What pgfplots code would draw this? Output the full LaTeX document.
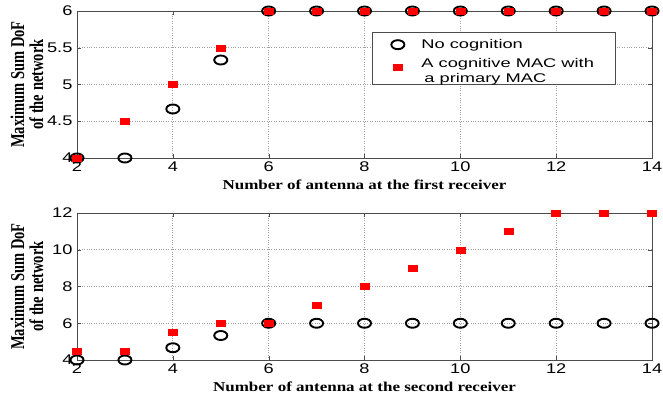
\documentclass[border=0pt]{standalone}
\usepackage{graphicx}
\usepackage{pgfplots}
\pgfplotsset{compat=1.18}
\usepackage{fontspec}
\setmainfont{Liberation Sans}
\newfontfamily\timesfont{Liberation Serif}
\begin{document}
\begin{tikzpicture}[x=1pt,y=1pt]
\useasboundingbox (0,0) rectangle (663,402);
\pgfplotsset{
  myax/.style={
    scale only axis, width=575pt, height=147pt,
    xmin=2, xmax=14, xtick={2,4,...,14},
    grid=major, major grid style={dotted, gray!75, line width=0.9pt},
    axis line style={gray!60!black, line width=0.9pt},
    tick style={gray!60!black},
    tick align=inside, major tick length=4pt,
    ticklabel style={font=\fontsize{14}{14}\selectfont, xscale=1.3},
    /pgf/number format/assume math mode=true,
    xlabel style={font=\timesfont\bfseries\fontsize{13.6}{14}\selectfont, xscale=1.25,
      at={(axis description cs:0.5,0)}, anchor=center, yshift=-27pt},
    ylabel style={font=\timesfont\bfseries\fontsize{14.5}{14}\selectfont, align=center,
      at={(axis description cs:-0.087,0.5)}, anchor=center, yscale=1.35},
    ylabel={Maximum Sum DoF\\of the network},
  },
  circ/.style={only marks, mark=o, mark size=4.5pt, mark options={xscale=1.45, line width=1.9pt, black}},
  sq/.style={only marks, mark=square*, mark size=3pt, mark options={xscale=1.5, fill=red, draw=red}},
}
\begin{axis}[myax, at={(77pt,244pt)}, anchor=south west,
  ymin=4, ymax=6, ytick={4,4.5,5,5.5,6},
  xlabel={Number of antenna at the first receiver},
  legend style={at={(0.513,0.857)}, anchor=north west, draw=gray!60!black, line width=0.7pt,
    font=\fontsize{12.6}{13.5}\selectfont, cells={anchor=west}, row sep=4pt, inner xsep=19pt, inner ysep=5pt},
  legend cell align=left,
  clip=false]
\addplot[circ] coordinates {(2,4)(3,4)(4,4.6667)(5,5.3333)(6,6)(7,6)(8,6)(9,6)(10,6)(11,6)(12,6)(13,6)(14,6)};
\addlegendentry{\hspace{15pt}\scalebox{1.45}[1]{No cognition}}
\addplot[sq] coordinates {(2,4)(3,4.5)(4,5)(5,5.5)(6,6)(7,6)(8,6)(9,6)(10,6)(11,6)(12,6)(13,6)(14,6)};
\addlegendentry{\hspace{15pt}\scalebox{1.45}[1]{\begin{tabular}{@{}l@{}}A cognitive MAC with\\[2pt] \,a primary MAC\end{tabular}}}
\end{axis}
\begin{axis}[myax, at={(77pt,42pt)}, anchor=south west,
  ymin=4, ymax=12, ytick={4,6,8,10,12},
  xlabel={Number of antenna at the second receiver},
  clip=false]
\addplot[circ] coordinates {(2,4)(3,4)(4,4.6667)(5,5.3333)(6,6)(7,6)(8,6)(9,6)(10,6)(11,6)(12,6)(13,6)(14,6)};
\addplot[sq] coordinates {(2,4.5)(3,4.5)(4,5.5)(5,6)(6,6)(7,7)(8,8)(9,9)(10,10)(11,11)(12,12)(13,12)(14,12)};
\end{axis}
\end{tikzpicture}
\end{document}
